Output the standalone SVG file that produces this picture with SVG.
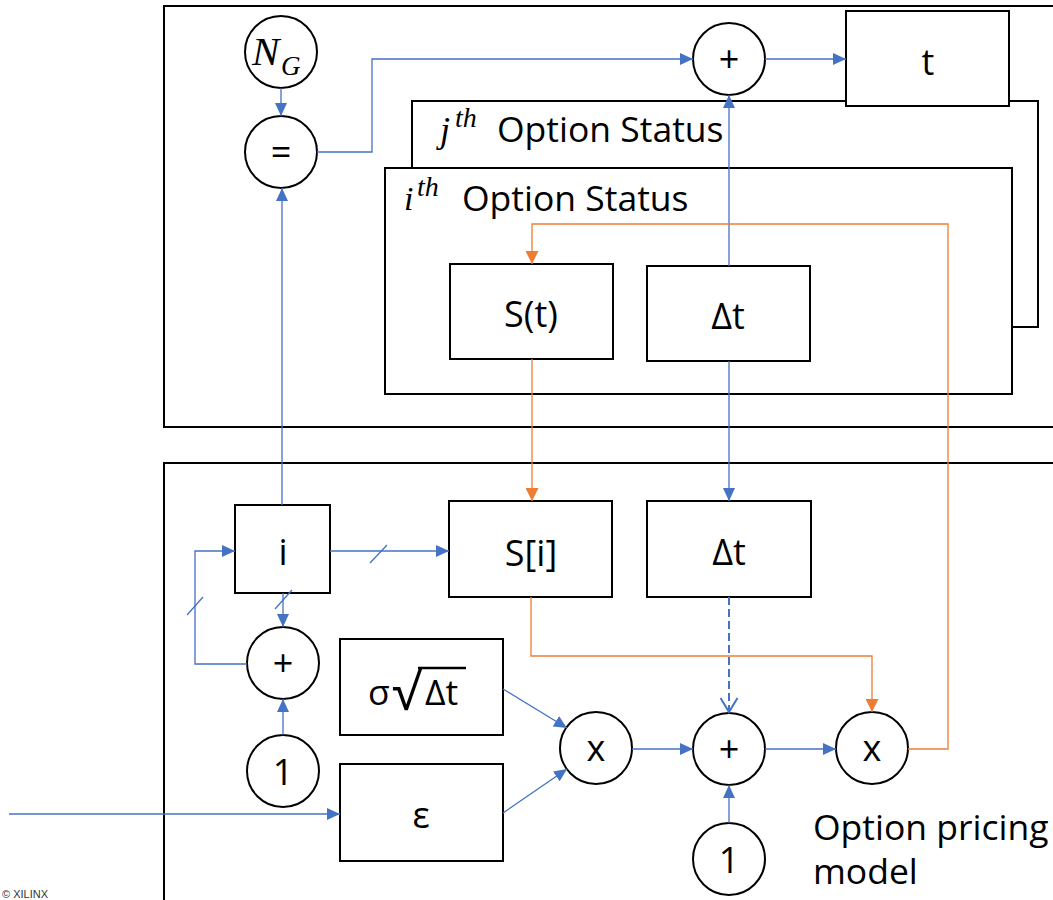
<svg xmlns="http://www.w3.org/2000/svg" width="1053" height="900" viewBox="0 0 1053 900">
<style>
.cont{fill:none;stroke:#000;stroke-width:2}
.box{fill:#fff;stroke:#000;stroke-width:2}
.lbl{font-family:"Open Sans","Noto Sans","DejaVu Sans",sans-serif;font-size:36px;fill:#000;text-anchor:middle}
.txt{font-family:"Open Sans","Noto Sans","DejaVu Sans",sans-serif;font-size:35.5px;fill:#000}
.math{font-family:"Liberation Serif","DejaVu Serif",serif;font-style:italic;fill:#000}
.b{fill:none;stroke:#4472C4;stroke-width:1.3}
.o{fill:none;stroke:#ED7D31;stroke-width:1.3}
.ab{marker-end:url(#ab)}
.ao{marker-end:url(#ao)}
</style>
<defs>
<marker id="ab" markerWidth="13" markerHeight="12" refX="13" refY="6" orient="auto" markerUnits="userSpaceOnUse"><path d="M0,0L13,6L0,12z" fill="#4472C4"/></marker>
<marker id="ao" markerWidth="13" markerHeight="13" refX="13" refY="6.5" orient="auto" markerUnits="userSpaceOnUse"><path d="M0,0L13,6.5L0,13z" fill="#ED7D31"/></marker>
<marker id="ov" markerWidth="17" markerHeight="19" refX="15" refY="9.5" orient="auto" markerUnits="userSpaceOnUse"><path d="M1,1L15,9.5L1,18" fill="none" stroke="#4472C4" stroke-width="2"/></marker>
</defs>
<rect width="1053" height="900" fill="#fff"/>

<g id="containers">
<rect class="cont" x="164" y="6" width="900" height="421"/>
<rect class="cont" x="164" y="463" width="900" height="460"/>
</g>

<g id="node-NG">
<circle class="box" cx="281" cy="52" r="36"/>
<text class="math" x="252" y="65" font-size="41">N</text>
<text class="math" x="281" y="75" font-size="27">G</text>
</g>
<g id="node-eq">
<circle class="box" cx="281" cy="152" r="36"/>
<text class="lbl" x="281" y="165">=</text>
</g>
<g id="node-jth">
<rect class="box" x="412" y="101" width="626" height="226"/>
<text class="math" x="440" y="142" font-size="36">j</text>
<text class="math" x="455" y="127" font-size="28">th</text>
<text class="txt" x="497" y="142">Option Status</text>
</g>
<g id="node-t">
<rect class="box" x="846" y="11" width="163" height="95"/>
<text class="lbl" x="928" y="75">t</text>
</g>
<g id="node-plus-top">
<circle class="box" cx="729" cy="59" r="36"/>
<text class="lbl" x="729" y="72">+</text>
</g>
<g id="node-ith">
<rect class="box" x="385" y="168" width="627" height="226"/>
<text class="math" x="404" y="210" font-size="34">i</text>
<text class="math" x="417" y="196" font-size="28">th</text>
<text class="txt" x="462" y="211">Option Status</text>
</g>
<g id="node-St">
<rect class="box" x="450" y="264" width="163" height="95"/>
<text class="lbl" x="531" y="327">S(t)</text>
</g>
<g id="node-dt-top">
<rect class="box" x="647" y="266" width="163" height="95"/>
<text class="lbl" x="728" y="329">Δt</text>
</g>
<g id="node-i">
<rect class="box" x="235" y="505" width="95" height="88"/>
<text class="lbl" x="283" y="565">i</text>
</g>
<g id="node-Si">
<rect class="box" x="449" y="501" width="163" height="96"/>
<text class="lbl" x="531" y="566">S[i]</text>
</g>
<g id="node-dt-bottom">
<rect class="box" x="647" y="501" width="164" height="96"/>
<text class="lbl" x="729" y="565">Δt</text>
</g>
<g id="node-plus-left">
<circle class="box" cx="283" cy="663" r="36"/>
<text class="lbl" x="283" y="676">+</text>
</g>
<g id="node-one-left">
<circle class="box" cx="283" cy="771" r="36"/>
<text class="lbl" x="283" y="785">1</text>
</g>
<g id="node-sigma">
<rect class="box" x="340" y="639" width="163" height="96"/>
<text class="txt" x="368" y="705">σ</text>
<text class="txt" x="392" y="710" style="font-size:52px">√</text>
<text class="txt" x="425" y="705">Δt</text>
<line x1="418" y1="668" x2="466" y2="668" stroke="#000" stroke-width="2.5"/>
</g>
<g id="node-eps">
<rect class="box" x="340" y="764" width="163" height="97"/>
<text class="lbl" x="421" y="828">ε</text>
</g>
<g id="node-mul-left">
<circle class="box" cx="596" cy="748" r="36"/>
<text class="lbl" x="596" y="761">x</text>
</g>
<g id="node-plus-mid">
<circle class="box" cx="729" cy="749" r="36"/>
<text class="lbl" x="729" y="762">+</text>
</g>
<g id="node-mul-right">
<circle class="box" cx="872" cy="748" r="36"/>
<text class="lbl" x="872" y="761">x</text>
</g>
<g id="node-one-bottom">
<circle class="box" cx="729" cy="859" r="36"/>
<text class="lbl" x="729" y="873">1</text>
</g>
<g id="label-model">
<text class="txt" x="813" y="840">Option pricing</text>
<text class="txt" x="813" y="884">model</text>
</g>
<g id="label-xilinx">
<text x="2" y="898" font-family="Liberation Sans, sans-serif" font-size="11" fill="#333">© XILINX</text>
</g>

<g id="connectors">
<line class="b ab" x1="281" y1="88" x2="281" y2="116"/>
<polyline class="b ab" points="317,152 372,152 372,59 693,59"/>
<line class="b ab" x1="765" y1="59" x2="846" y2="59"/>
<line class="b ab" x1="729" y1="266" x2="729" y2="95"/>
<line class="b ab" x1="729" y1="361" x2="729" y2="501"/>
<line class="o ao" x1="532" y1="359" x2="532" y2="501"/>
<polyline class="o ao" points="908,749 948,749 948,224 532,224 532,264"/>
<line class="b ab" x1="282" y1="505" x2="282" y2="188"/>
<line class="b ab" x1="330" y1="551" x2="449" y2="551"/>
<line class="b" x1="370" y1="563" x2="387" y2="545"/>
<line class="b ab" x1="283" y1="593" x2="283" y2="627"/>
<line class="b" x1="275" y1="609" x2="292" y2="590"/>
<polyline class="b ab" points="247,664 195,664 195,551 235,551"/>
<line class="b" x1="187" y1="615" x2="203" y2="597"/>
<line class="b ab" x1="283" y1="735" x2="283" y2="699"/>
<line class="b ab" x1="9" y1="814" x2="340" y2="814"/>
<line class="b ab" x1="503" y1="689" x2="567" y2="728"/>
<line class="b ab" x1="503" y1="813" x2="567" y2="769"/>
<line class="b ab" x1="632" y1="749" x2="693" y2="749"/>
<line class="b ab" x1="765" y1="749" x2="836" y2="749"/>
<line x1="729" y1="597" x2="729" y2="712" fill="none" stroke="#4472C4" stroke-width="2" stroke-dasharray="8,4" marker-end="url(#ov)"/>
<line class="b ab" x1="729" y1="823" x2="729" y2="785"/>
<polyline class="o ao" points="531,597 531,656 872,656 872,712"/>
</g>
</svg>
